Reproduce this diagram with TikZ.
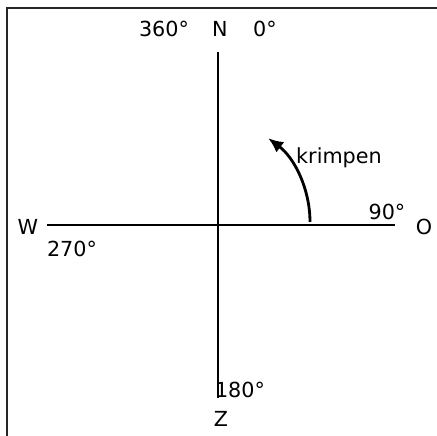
\documentclass[tikz,border=0pt]{standalone}
\usepackage{fontspec}
\setmainfont{DejaVu Sans}
\usepackage{tikz}
\usetikzlibrary{arrows.meta, positioning}

\begin{document}
\begin{tikzpicture}[
  x=0.02cm, y=0.02cm,
  frame/.style={line width=0.75pt, black!85},
  axis/.style={line width=1.7pt},
  lbl/.style={anchor=base, inner sep=0pt, font=\fontsize{11.8}{14}\selectfont},
  arr/.style={-{Latex[length=3mm, width=2.6mm]}, line width=1.6pt}
]
  \useasboundingbox (0,0) rectangle (437,436);
  % frame, cut off right and below
  \coordinate (fb) at (7,-2);
  \coordinate (fc) at (7,428);
  \coordinate (fr) at (440,428);
  \draw[frame] (fb) -- (fc) -- (fr);
  % compass cross
  \coordinate (c) at (218,211);
  \coordinate (n) at (218,384);
  \coordinate (s) at (218,38);
  \coordinate (w) at (47,211);
  \coordinate (e) at (395,211);
  \draw[axis] (n) -- (s);
  \draw[axis] (w) -- (e);
  % labels
  \node[lbl] (d360) at (164,399) {360°};
  \node[lbl] (north) at (220,399) {N};
  \node[lbl] (d0) at (265,399) {0°};
  \node[lbl] (west) at (28,201) {W};
  \node[lbl] (d270) at (72,179) {270°};
  \node[lbl] (d90) at (387,216) {90°};
  \node[lbl] (east) at (424,201) {O};
  \node[lbl] (d180) at (240,38) {180°};
  \node[lbl] (south) at (221,9) {Z};
  \node[lbl] (turn) at (339,272) {krimpen};
  % turning arrow
  \coordinate (a0) at (310,214);
  \draw[arr] (a0) arc[start angle=0, end angle=53, radius=2.1cm];
\end{tikzpicture}
\end{document}
